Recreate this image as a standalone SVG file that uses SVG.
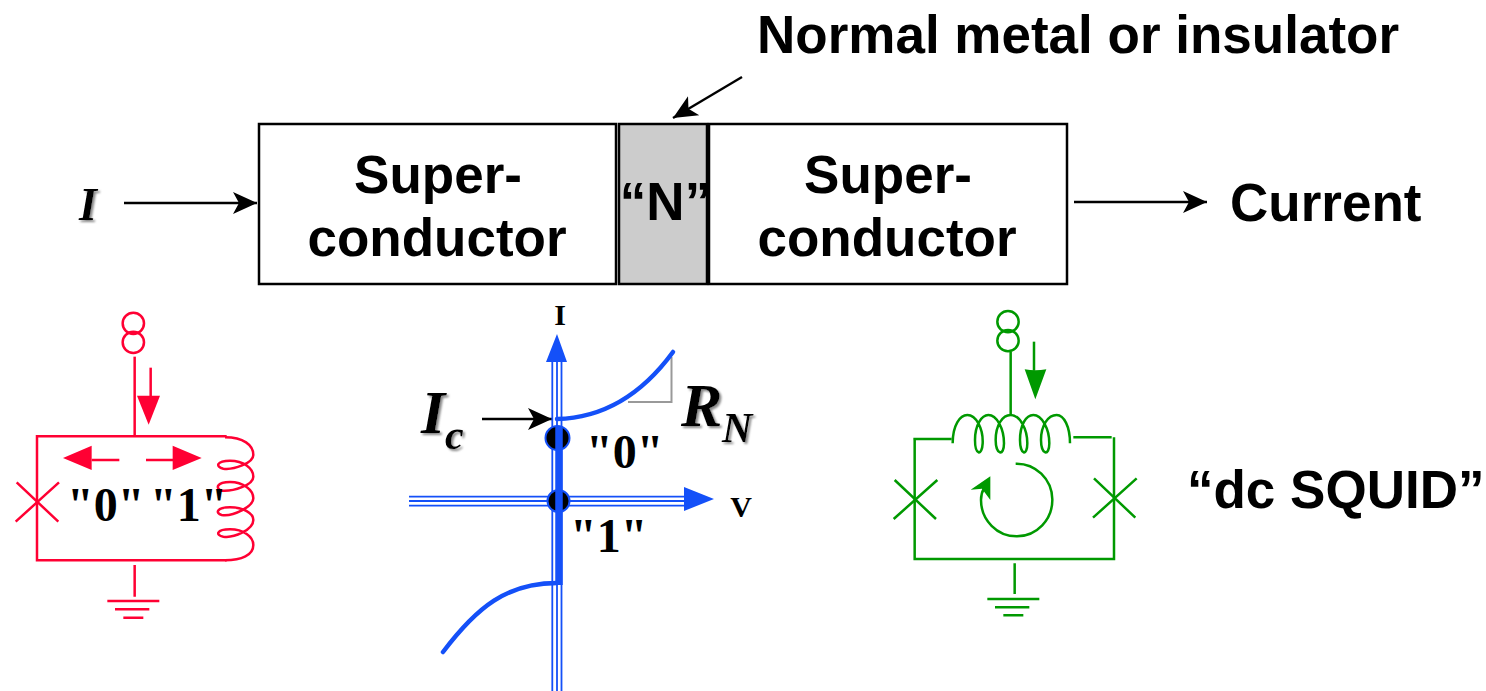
<svg xmlns="http://www.w3.org/2000/svg" width="1486" height="691" viewBox="0 0 1486 691">
<style>
.sans{font-family:"Liberation Sans",Arial,sans-serif;font-weight:700;font-size:53px;fill:#000}
.serif{font-family:"Liberation Serif","Times New Roman",serif;font-weight:700;fill:#000}
.state{font-size:48px}
.it{font-style:italic}
.box{stroke:#000;stroke-width:2.5;fill:#fff}
.wire{fill:none;stroke-width:7.500;stroke-linecap:butt}
.red .wire{stroke:#ff0033}.red .fill{fill:#ff0033}
.green .wire{stroke:#009900}.green .fill{fill:#009900}
.ax{stroke:#1450f8;stroke-width:1.8;fill:none}
.curve{stroke:#1450f8;stroke-width:4.500;fill:none;stroke-linecap:round}
.blue{fill:#1450f8}
.dot{fill:#000;stroke:#1450f8;stroke-width:2}
.conn{stroke:#000;stroke-width:2.400;fill:none;marker-end:url(#head)}
</style>
<defs>
<marker id="head" markerUnits="userSpaceOnUse" markerWidth="26" markerHeight="26" refX="24" refY="13" orient="auto"><path d="M0,2 L24,13 L0,24 L6,13 Z" fill="#000"/></marker>
<filter id="sh" x="-20%" y="-20%" width="150%" height="150%"><feDropShadow dx="2" dy="2" stdDeviation="1" flood-color="#888"/></filter>
</defs>

<g id="connectors">
<path class="conn" d="M124,203 H257"/>
<path class="conn" d="M1074,202 H1207"/>
<path class="conn" d="M742,77 L673,118"/>
<path class="conn" d="M482,419 H552"/>
</g>

<g id="superconductor-left">
<rect class="box" x="259" y="124" width="357" height="160"/>
<text class="sans" x="438" y="193" text-anchor="middle">Super-</text>
<text class="sans" x="437" y="256" text-anchor="middle">conductor</text>
</g>
<g id="barrier">
<rect class="box" x="619" y="124" width="88" height="160" style="fill:#cccccc"/>
<text class="sans" x="665.500" y="220" text-anchor="middle">“N”</text>
</g>
<g id="superconductor-right">
<rect class="box" x="709" y="124" width="358" height="160"/>
<text class="sans" x="888" y="193" text-anchor="middle">Super-</text>
<text class="sans" x="887" y="256" text-anchor="middle">conductor</text>
</g>
<g id="label-normal"><text class="sans" x="757" y="53">Normal metal or insulator</text></g>
<g id="label-current-symbol"><text class="serif it" x="79" y="220" font-size="46" filter="url(#sh)">I</text></g>
<g id="label-current"><text class="sans" x="1230" y="221">Current</text></g>
<g id="label-squid"><text class="sans" x="1187" y="508">“dc SQUID”</text></g>

<g id="red-circuit" class="red">
<g transform="translate(0 300) scale(.33333)">
<circle class="wire" cx="400" cy="70" r="32"/>
<circle class="wire" cx="400" cy="127" r="32"/>
<path class="wire" d="M404,170 V408"/>
<path class="wire" d="M452,203 V290"/>
<path class="fill" d="M411,287 H480 L446,374 Z"/>
<path class="wire" d="M680,409 H111 V781 H680"/>
<path class="wire" d="M358,480 H275 M438,480 H520"/>
<path class="fill" d="M189,474 L275,437 V510 Z M605,474 L518,437 V510 Z"/>
<path class="wire" d="M50,547 L175,665 M177,547 L47,665"/>
<path class="wire" d="M675,412 C730,412 760,435 760,465 C760,490 700,510 670,506 C645,500 650,482 690,482 C730,482 760,505 760,530 C760,555 700,575 665,572 C645,565 650,546 690,546 C730,546 760,570 760,595 C760,620 700,650 665,645 C645,640 650,622 690,622 C730,622 760,640 760,660 C760,690 700,715 670,710 C645,705 650,688 690,688 C730,688 760,710 760,735 C760,765 725,781 675,781"/>
<path class="wire" d="M404,795 V890 M322,903 H478 M345,928 H448 M370,953 H430"/>
</g>
<text class="serif state" x="67" y="521">"0"</text>
<text class="serif state" x="150" y="521">"1"</text>
</g>

<g id="iv-plot">
<path d="M628,402 H671.500 V357" fill="none" stroke="#999" stroke-width="2"/>
<path class="ax" d="M409,496.700 H690 M409,501 H690 M409,505.600 H690"/>
<path class="ax" d="M552.300,362 V691 M557,362 V691 M561.500,362 V691"/>
<circle class="dot" cx="557.500" cy="438" r="12"/>
<circle class="dot" cx="558.500" cy="501" r="11"/>
<path d="M559,427 V585" stroke="#1450f8" stroke-width="7.500" fill="none"/>
<path class="blue" d="M557,334 L567,362 H546 Z M714,499 L684,487 V511 Z"/>
<path class="curve" d="M557,419 C600,418 640,397 673,352"/>
<path class="curve" d="M443,652 C477,607 507,583 557,583"/>
<text class="serif" x="560" y="325" font-size="30" text-anchor="middle">I</text>
<text class="serif" x="741" y="517" font-size="30" text-anchor="middle">V</text>
<text class="serif it" x="421" y="433" font-size="62" filter="url(#sh)">I</text>
<text class="serif it" x="445" y="449" font-size="42" filter="url(#sh)">c</text>
<text class="serif it" x="681" y="426" font-size="62" filter="url(#sh)">R</text>
<text class="serif it" x="722" y="442" font-size="42" filter="url(#sh)">N</text>
<text class="serif state" x="586" y="468">"0"</text>
<text class="serif state" x="570" y="552">"1"</text>
</g>

<g id="green-circuit" class="green">
<g transform="translate(880 300) scale(.33333)">
<circle class="wire" cx="384" cy="65" r="32"/>
<circle class="wire" cx="384" cy="122" r="32"/>
<path class="wire" d="M392,155 V345"/>
<path class="wire" d="M462,125 V212"/>
<path class="fill" d="M434,208 Q466,214 499,208 L466,298 Z"/>
<path class="wire" d="M218,430 C218,375 240,345 262,345 C288,345 310,385 308,430 C306,470 285,465 285,420 C285,375 305,345 325,345 C350,345 372,385 372,430 C372,470 347,465 347,420 C347,375 368,345 392,345 C418,345 442,385 442,430 C442,470 420,465 420,420 C420,375 438,345 460,345 C485,345 508,385 508,430 C508,470 483,465 483,420 C483,375 505,345 530,345 C552,345 570,380 570,430"/>
<path class="wire" d="M215,417 H100 M104,417 V777 H702 V412 M695,412 H580"/>
<path class="wire" d="M44,540 L168,657 M172,540 L41,657 M642,535 L766,653 M770,535 L639,653"/>
<path class="wire" d="M407,491 A107,109 0 1 1 303,600 Q303,580 312,565"/>
<path class="fill" d="M331,529 L272,569 L306,566 L331,600 Z"/>
<path class="wire" d="M404,790 V882 M322,897 H478 M345,922 H448 M370,946 H430"/>
</g>
</g>
</svg>
